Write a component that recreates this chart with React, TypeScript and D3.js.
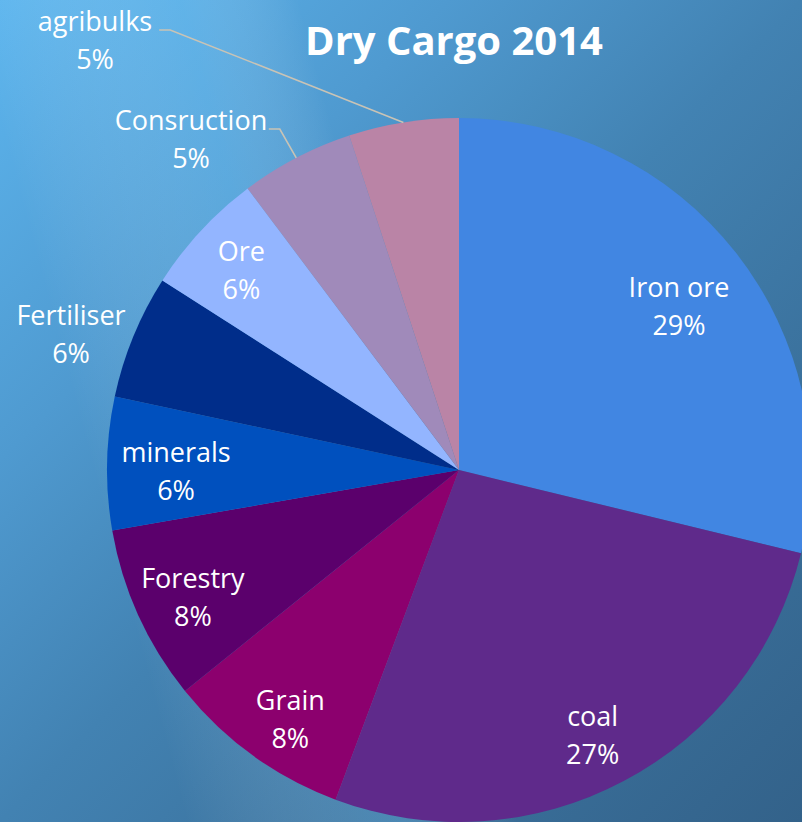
import React from "react";
import * as d3 from "d3";

const categories = ["Iron ore", "coal", "Grain", "Forestry", "minerals", "Fertiliser", "Ore", "Consruction", "agribulks"];
const shares = [28.8, 26.9, 8.5, 8.05, 6.1, 5.7, 5.7, 5.2, 5.05];
const percentLabels = ["29%", "27%", "8%", "8%", "6%", "6%", "6%", "5%", "5%"];
const sliceColors = ["#4186E2", "#5F2A8B", "#8C006E", "#5B006C", "#0050BE", "#002D8A", "#93B5FF", "#A08ABA", "#BA84A6"];
const title = "Dry Cargo 2014";

const W = 802;
const H = 822;
const CX = 459;
const CY = 470;
const R = 352;
const LABEL_R = 290;
const FONT = 27;

// Layout: nudges for inside labels (added to the arc centroid)
const insideNudge: Record<string, [number, number]> = {
  "Iron ore": [-8, 16],
  coal: [-2, 10],
  Grain: [1, 15],
  Forestry: [-2, 8],
  minerals: [7, 7],
  Ore: [-5, -2],
};
// Layout for labels placed outside the pie (offsets from the pie centre)
const outsideLabels: Record<string, { dx: number; dy: number; leader?: boolean }> = {
  Fertiliser: { dx: -388, dy: -135 },
  Consruction: { dx: -268, dy: -330, leader: true },
  agribulks: { dx: -364, dy: -429, leader: true },
};

export default function App() {
  const data = categories.map((c, i) => ({ c, v: shares[i], p: percentLabels[i], col: sliceColors[i] }));
  const pie = d3.pie<any>().value((d) => d.v).sort(null).startAngle(0).endAngle(2 * Math.PI);
  const arcs = pie(data);
  const arc = d3.arc<any>().innerRadius(0).outerRadius(R);
  const labelArc = d3.arc<any>().innerRadius(LABEL_R).outerRadius(LABEL_R);
  const edgeArc = d3.arc<any>().innerRadius(R).outerRadius(R);

  const labels = arcs.map((a) => {
    const o = outsideLabels[a.data.c];
    let x: number, y: number;
    if (o) {
      x = o.dx;
      y = o.dy;
    } else {
      [x, y] = labelArc.centroid(a);
      const n = insideNudge[a.data.c] || [0, 0];
      x += n[0];
      y += n[1];
    }
    return { a, x, y, o };
  });

  return (
    <svg width={W} height={H} style={{ position: "fixed", left: 0, top: 0 }} fontFamily="'Open Sans', sans-serif">
      <defs>
        <linearGradient id="bg" x1="0" y1="0" x2="1" y2="1">
          <stop offset="0" stopColor="#5cb5ee" />
          <stop offset="0.28" stopColor="#4f9ad0" />
          <stop offset="0.5" stopColor="#4282b2" />
          <stop offset="0.75" stopColor="#3a709b" />
          <stop offset="1" stopColor="#33628a" />
        </linearGradient>
        <linearGradient id="streak" x1="0" y1="0.15" x2="0.55" y2="0" gradientUnits="objectBoundingBox">
          <stop offset="0" stopColor="#ffffff" stopOpacity="0" />
          <stop offset="0.45" stopColor="#7fd0ff" stopOpacity="0.25" />
          <stop offset="0.7" stopColor="#ffffff" stopOpacity="0" />
        </linearGradient>
      </defs>
      <rect width={W} height={H} fill="url(#bg)" />
      <rect width={W} height={H} fill="url(#streak)" />
      <text x={454} y={55} textAnchor="middle" fill="#fff" fontWeight="bold" fontSize={40}>
        {title}
      </text>
      <g transform={`translate(${CX},${CY})`}>
        {arcs.map((a, i) => (
          <path key={i} d={arc(a) as string} fill={a.data.col} />
        ))}
        {labels.map(({ a, x, y, o }, i) => {
          if (!o || !o.leader) return null;
          const [ex, ey] = edgeArc.centroid(a);
          const w = a.data.c.length * 13.6;
          const startX = x + w / 2 + 3;
          const kneeX = startX + 11;
          const ly = y - 11;
          return (
            <polyline
              key={"l" + i}
              points={`${startX},${ly} ${kneeX},${ly} ${ex},${ey}`}
              fill="none"
              stroke="#c9c3b5"
              strokeWidth={1.6}
            />
          );
        })}
        {labels.map(({ a, x, y }, i) => (
          <text key={"t" + i} x={x} y={y} textAnchor="middle" fill="#fff" fontSize={FONT}>
            <tspan x={x} y={y - 10}>{a.data.c}</tspan>
            <tspan x={x} y={y + 28}>{a.data.p}</tspan>
          </text>
        ))}
      </g>
    </svg>
  );
}
